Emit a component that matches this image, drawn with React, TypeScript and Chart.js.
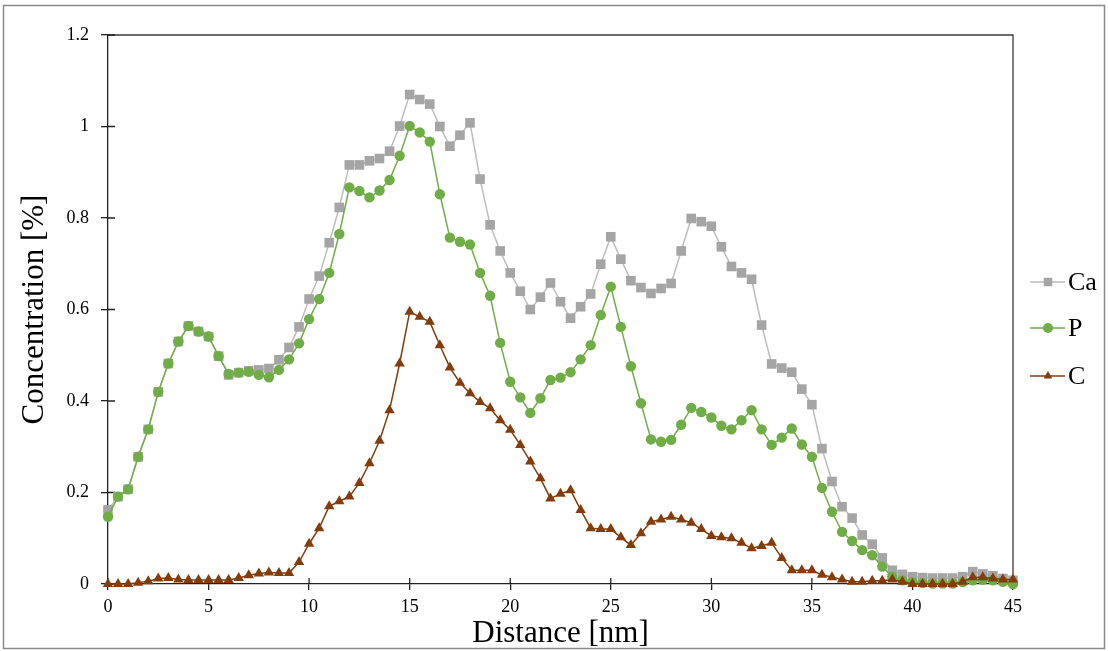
import React, { useEffect, useRef } from 'react';
import { Chart, registerables } from 'chart.js';

Chart.register(...registerables);

const distanceNm = [
  0, 0.5, 1, 1.5, 2, 2.5, 3, 3.5, 4, 4.5,
  5, 5.5, 6, 6.5, 7, 7.5, 8, 8.5, 9, 9.5,
  10, 10.5, 11, 11.5, 12, 12.5, 13, 13.5, 14, 14.5,
  15, 15.5, 16, 16.5, 17, 17.5, 18, 18.5, 19, 19.5,
  20, 20.5, 21, 21.5, 22, 22.5, 23, 23.5, 24, 24.5,
  25, 25.5, 26, 26.5, 27, 27.5, 28, 28.5, 29, 29.5,
  30, 30.5, 31, 31.5, 32, 32.5, 33, 33.5, 34, 34.5,
  35, 35.5, 36, 36.5, 37, 37.5, 38, 38.5, 39, 39.5,
  40, 40.5, 41, 41.5, 42, 42.5, 43, 43.5, 44, 44.5,
  45,
];

const caConc = [
  0.162, 0.191, 0.207, 0.278, 0.338, 0.42, 0.482, 0.53, 0.564, 0.552,
  0.541, 0.498, 0.457, 0.462, 0.466, 0.468, 0.471, 0.49, 0.517, 0.562,
  0.623, 0.673, 0.746, 0.823, 0.916, 0.916, 0.925, 0.93, 0.946, 1.001,
  1.07, 1.059, 1.049, 1.0, 0.957, 0.981, 1.008, 0.885, 0.785, 0.728,
  0.68, 0.64, 0.6, 0.627, 0.658, 0.617, 0.581, 0.606, 0.634, 0.699,
  0.759, 0.71, 0.663, 0.648, 0.635, 0.646, 0.657, 0.728, 0.799, 0.792,
  0.782, 0.737, 0.694, 0.68, 0.666, 0.566, 0.481, 0.472, 0.463, 0.426,
  0.392, 0.296, 0.224, 0.169, 0.144, 0.107, 0.087, 0.057, 0.03, 0.021,
  0.016, 0.014, 0.013, 0.013, 0.013, 0.016, 0.027, 0.022, 0.018, 0.012,
  0.008,
];

const pConc = [
  0.147, 0.191, 0.207, 0.278, 0.338, 0.42, 0.482, 0.53, 0.564, 0.552,
  0.541, 0.498, 0.459, 0.462, 0.464, 0.457, 0.452, 0.468, 0.491, 0.526,
  0.579, 0.623, 0.68, 0.765, 0.867, 0.859, 0.845, 0.86, 0.883, 0.936,
  1.001, 0.987, 0.967, 0.852, 0.757, 0.748, 0.742, 0.68, 0.63, 0.527,
  0.442, 0.408, 0.374, 0.406, 0.446, 0.451, 0.463, 0.491, 0.522, 0.588,
  0.65, 0.562, 0.476, 0.395, 0.316, 0.311, 0.315, 0.348, 0.385, 0.376,
  0.364, 0.346, 0.338, 0.358, 0.38, 0.338, 0.304, 0.32, 0.34, 0.305,
  0.278, 0.21, 0.158, 0.114, 0.094, 0.074, 0.063, 0.038, 0.016, 0.008,
  0.004, 0.002, 0.001, 0.001, 0.001, 0.004, 0.008, 0.009, 0.008, 0.005,
  0.0,
];

const cConc = [
  0.0, 0.0, 0.0, 0.003, 0.006, 0.012, 0.013, 0.01, 0.009, 0.009,
  0.009, 0.009, 0.009, 0.013, 0.019, 0.023, 0.025, 0.024, 0.024, 0.048,
  0.088, 0.122, 0.17, 0.181, 0.191, 0.221, 0.264, 0.313, 0.38, 0.482,
  0.595, 0.584, 0.573, 0.522, 0.473, 0.44, 0.417, 0.398, 0.384, 0.358,
  0.337, 0.304, 0.268, 0.231, 0.187, 0.197, 0.205, 0.162, 0.122, 0.12,
  0.12, 0.102, 0.085, 0.111, 0.136, 0.141, 0.147, 0.141, 0.134, 0.12,
  0.105, 0.102, 0.1, 0.09, 0.078, 0.083, 0.09, 0.057, 0.03, 0.03,
  0.03, 0.02, 0.015, 0.01, 0.005, 0.005, 0.007, 0.007, 0.01, 0.005,
  0.0, 0.0, 0.0, 0.0, 0.0, 0.005, 0.015, 0.015, 0.012, 0.01,
  0.01,
];

const xTickValues = [0, 5, 10, 15, 20, 25, 30, 35, 40, 45];
const yTickValues = [0, 0.2, 0.4, 0.6, 0.8, 1, 1.2];
const seriesNames = ['Ca', 'P', 'C'];
const seriesLine = ['#BDBDBD', '#70AD47', '#843C0C'];
const seriesFill = ['#A5A5A5', '#70AD47', '#843C0C'];
const seriesShape = ['rect', 'circle', 'triangle'];

const FONT = "'Liberation Serif', 'Times New Roman', serif";

function drawMarker(ctx: CanvasRenderingContext2D, shape: string, x: number, y: number, r: number) {
  ctx.beginPath();
  if (shape === 'rect') {
    const s = r * Math.SQRT1_2;
    ctx.rect(x - s, y - s, 2 * s, 2 * s);
  } else if (shape === 'circle') {
    ctx.arc(x, y, r, 0, Math.PI * 2);
  } else {
    ctx.moveTo(x, y - r);
    ctx.lineTo(x + r * Math.sin((2 * Math.PI) / 3), y - r * Math.cos((2 * Math.PI) / 3));
    ctx.lineTo(x + r * Math.sin((4 * Math.PI) / 3), y - r * Math.cos((4 * Math.PI) / 3));
    ctx.closePath();
  }
  ctx.fill();
}

const framePlugin = {
  id: 'framePlugin',
  beforeDraw(chart: any) {
    const { ctx, width, height } = chart;
    ctx.save();
    ctx.fillStyle = '#ffffff';
    ctx.fillRect(0, 0, width, height);
    ctx.strokeStyle = '#8a8a8a';
    ctx.lineWidth = 1.5;
    ctx.strokeRect(3.5, 5.5, 1101, 643);
    ctx.restore();
  },
  beforeDatasetsDraw(chart: any) {
    const { ctx, chartArea: a, scales } = chart;
    ctx.save();
    ctx.strokeStyle = '#3a3a3a';
    ctx.lineWidth = 1.3;
    ctx.beginPath();
    ctx.moveTo(a.left, a.top);
    ctx.lineTo(a.right, a.top);
    ctx.lineTo(a.right, a.bottom);
    ctx.stroke();
    ctx.strokeStyle = '#222222';
    ctx.beginPath();
    yTickValues.forEach((v) => {
      const py = scales.y.getPixelForValue(v);
      ctx.moveTo(a.left, py);
      ctx.lineTo(a.left + 7, py);
    });
    xTickValues.forEach((v) => {
      const px = scales.x.getPixelForValue(v);
      ctx.moveTo(px, a.bottom);
      ctx.lineTo(px, a.bottom - 6);
    });
    ctx.stroke();
    ctx.restore();
  },
  afterDraw(chart: any) {
    const { ctx } = chart;
    const rows = [282, 328, 376];
    ctx.save();
    seriesNames.forEach((name, i) => {
      const y = rows[i];
      ctx.strokeStyle = seriesLine[i];
      ctx.lineWidth = 1.6;
      ctx.beginPath();
      ctx.moveTo(1030, y);
      ctx.lineTo(1065, y);
      ctx.stroke();
      ctx.fillStyle = seriesFill[i];
      drawMarker(ctx, seriesShape[i], 1048, y, seriesShape[i] === 'rect' ? 6 : 5);
      ctx.fillStyle = '#000000';
      ctx.font = `26px ${FONT}`;
      ctx.textAlign = 'left';
      ctx.textBaseline = 'middle';
      ctx.fillText(name, 1068, y + 1);
    });
    ctx.restore();
  },
};

export default function App() {
  const canvasRef = useRef<HTMLCanvasElement | null>(null);

  useEffect(() => {
    const canvas = canvasRef.current;
    if (!canvas) return;
    const concs = [caConc, pConc, cConc];
    const datasets = seriesNames.map((name, i) => ({
      label: name,
      data: distanceNm.map((d, j) => ({ x: d, y: concs[i][j] })),
      borderColor: seriesLine[i],
      backgroundColor: seriesFill[i],
      pointBackgroundColor: seriesFill[i],
      pointBorderColor: seriesFill[i],
      pointBorderWidth: 0,
      pointStyle: seriesShape[i],
      pointRadius: i === 0 ? 6.8 : i === 1 ? 5.2 : 6,
      borderWidth: 1.5,
      tension: 0,
      clip: false as any,
      order: 3 - i,
    }));

    const chart = new Chart(canvas, {
      type: 'line',
      data: { datasets },
      plugins: [framePlugin],
      options: {
        animation: false,
        responsive: false,
        maintainAspectRatio: false,
        layout: { padding: { left: 0, top: 35, right: 95, bottom: 0 } },
        plugins: {
          legend: { display: false },
          tooltip: { enabled: false },
        },
        scales: {
          x: {
            type: 'linear',
            min: 0,
            max: 45,
            afterBuildTicks: (scale: any) => {
              scale.ticks = xTickValues.map((v) => ({ value: v }));
            },
            afterFit: (scale: any) => {
              scale.height = 67;
            },
            ticks: {
              color: '#000000',
              font: { family: FONT, size: 18 },
              padding: 6,
              maxRotation: 0,
              autoSkip: false,
              callback: (v: any) => String(v),
            },
            grid: {
              drawOnChartArea: false,
              drawTicks: true,
              tickLength: 6,
              color: '#222222',
              lineWidth: 1.3,
            },
            border: { display: true, color: '#222222', width: 1.3 },
            title: {
              display: true,
              text: 'Distance [nm]',
              color: '#000000',
              font: { family: FONT, size: 31, lineHeight: 1 },
              padding: { top: 0, bottom: 2 },
            },
          },
          y: {
            type: 'linear',
            min: 0,
            max: 1.2,
            afterBuildTicks: (scale: any) => {
              scale.ticks = yTickValues.map((v) => ({ value: v }));
            },
            afterFit: (scale: any) => {
              scale.width = 108;
            },
            ticks: {
              color: '#000000',
              font: { family: FONT, size: 18 },
              padding: 12,
              autoSkip: false,
              callback: (v: any) => String(Math.round(v * 10) / 10),
            },
            grid: {
              drawOnChartArea: false,
              drawTicks: true,
              tickLength: 7,
              color: '#222222',
              lineWidth: 1.3,
            },
            border: { display: true, color: '#222222', width: 1.3 },
            title: {
              display: true,
              text: 'Concentration [%]',
              color: '#000000',
              font: { family: FONT, size: 31, lineHeight: 1 },
              padding: { top: 19, bottom: 0 },
            },
          },
        },
      },
    });

    return () => {
      chart.destroy();
    };
  }, []);

  return (
    <div style={{ position: 'absolute', left: 0, top: 0, width: 1108, height: 651, background: '#ffffff' }}>
      <canvas ref={canvasRef} width={1108} height={651} style={{ display: 'block', width: 1108, height: 651 }} />
    </div>
  );
}
